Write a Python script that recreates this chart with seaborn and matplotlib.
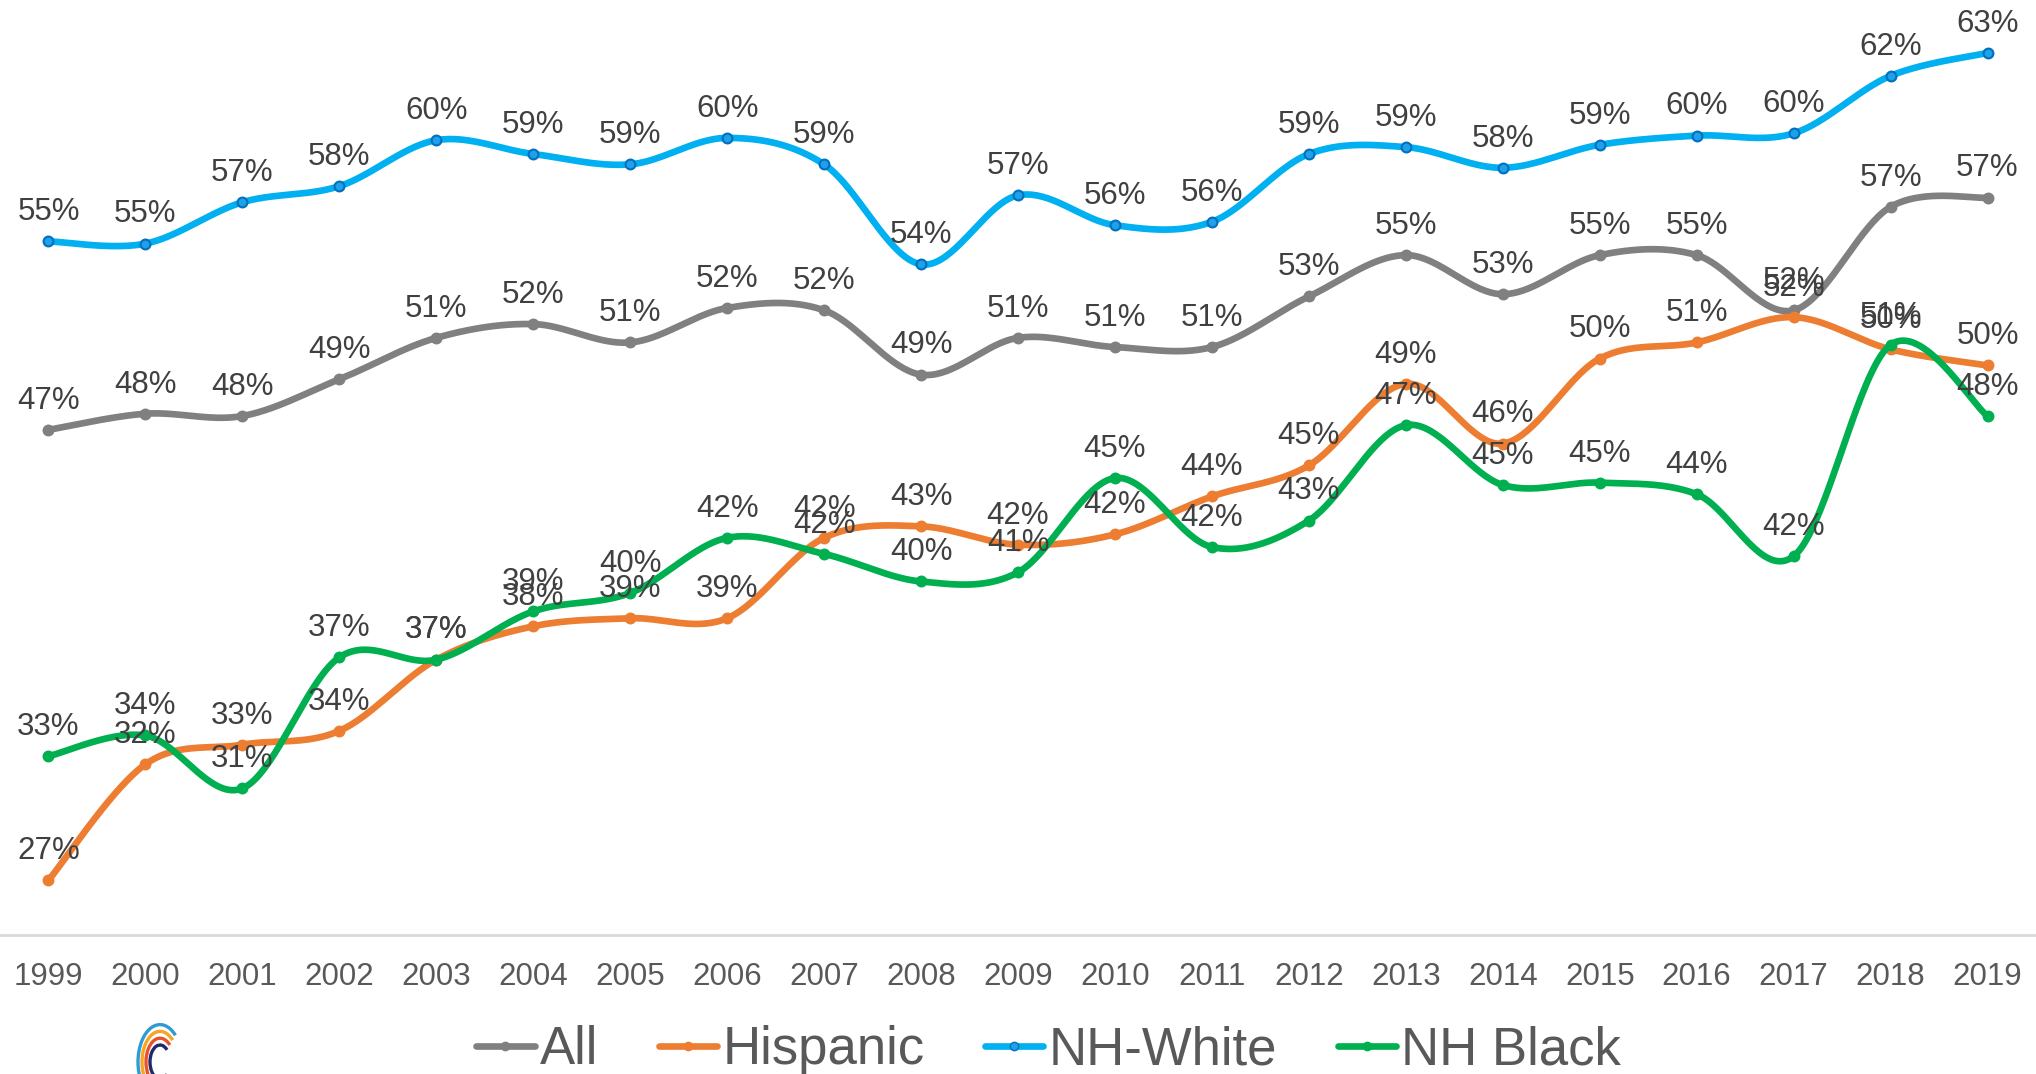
import numpy as np
import pandas as pd
import matplotlib
matplotlib.use("Agg")
import matplotlib.pyplot as plt
from matplotlib.lines import Line2D
from matplotlib.patches import Arc
import seaborn as sns

# values in percent
years = [str(y) for y in range(1999, 2020)]
all_pct = [47.0, 47.7, 47.6, 49.2, 51.0, 51.6, 50.8, 52.3, 52.2, 49.4, 51.0,
           50.6, 50.6, 52.8, 54.6, 52.9, 54.6, 54.6, 52.2, 56.7, 57.1]
hispanic_pct = [27.4, 32.45, 33.3, 33.9, 37.0, 38.45, 38.8, 38.8, 42.3, 42.8, 42.0,
                42.45, 44.1, 45.45, 49.0, 46.4, 50.1, 50.8, 51.9, 50.5, 49.8]
white_pct = [55.2, 55.1, 56.9, 57.6, 59.6, 59.0, 58.55, 59.7, 58.55, 54.2, 57.2,
             55.9, 56.05, 59.0, 59.3, 58.4, 59.4, 59.8, 59.9, 62.4, 63.4]
black_pct = [32.8, 33.7, 31.4, 37.1, 37.0, 39.1, 39.9, 42.3, 41.6, 40.4, 40.8,
             44.9, 41.9, 43.05, 47.2, 44.6, 44.7, 44.2, 41.5, 50.7, 47.6]

series_names = ["All", "Hispanic", "NH-White", "NH Black"]
series_vals = [all_pct, hispanic_pct, white_pct, black_pct]
line_colors = ["#808080", "#ED7D31", "#00B0F0", "#00B050"]
edge_colors = ["#808080", "#ED7D31", "#0070C0", "#00B050"]


def smooth_curve(vals, n=40):
    # excel style smoothed line (bezier through every point)
    p = np.column_stack([np.arange(len(vals)), vals]).astype(float)
    ext = np.vstack([p[0], p, p[-1]])
    t = np.linspace(0, 1, n)[:, None]
    segs = []
    for i in range(len(p) - 1):
        p0, p1, p2, p3 = ext[i], ext[i + 1], ext[i + 2], ext[i + 3]
        c1 = p1 + (p2 - p0) / 6
        c2 = p2 - (p3 - p1) / 6
        segs.append((1 - t) ** 3 * p1 + 3 * (1 - t) ** 2 * t * c1
                    + 3 * (1 - t) * t ** 2 * c2 + t ** 3 * p2)
    return np.vstack(segs)


sns.set_theme(style="white")
plt.rcParams["font.family"] = ["Liberation Sans", "DejaVu Sans"]

fig = plt.figure(figsize=(20.36, 10.74), dpi=100)
ax = fig.add_axes([0, 0.129, 1, 0.871])

for k, (name, vals) in enumerate(zip(series_names, series_vals)):
    v = np.array(vals) / 100
    curve = smooth_curve(v)
    df = pd.DataFrame({"x": curve[:, 0], "y": curve[:, 1]})
    sns.lineplot(data=df, x="x", y="y", sort=False, estimator=None, ax=ax,
                 color=line_colors[k], linewidth=4.8, zorder=2 + k)
    face = "#1FA0E8" if name == "NH-White" else line_colors[k]
    sns.scatterplot(x=np.arange(len(v)), y=v, ax=ax, s=50, color=face,
                    edgecolor=edge_colors[k], linewidth=1.5, zorder=3 + k)

# data labels on top of all lines
for vals in series_vals:
    for i, val in enumerate(vals):
        ax.annotate(f"{val:.0f}%", (i, val / 100), xytext=(0, 21),
                    textcoords="offset points", ha="center", va="center",
                    fontsize=22.5, color="#404040", zorder=10)

ax.set_xlim(-0.5, len(years) - 0.5)
ax.set_ylim(0.25, 0.657)
ax.set_xticks(range(len(years)))
ax.set_xticklabels(years)
ax.set_yticks([])
ax.set_xlabel("")
ax.set_ylabel("")
ax.tick_params(axis="x", length=0, pad=19, labelsize=22.5, labelcolor="#595959")
for side in ["left", "right", "top"]:
    ax.spines[side].set_visible(False)
ax.spines["bottom"].set_color("#D9D9D9")
ax.spines["bottom"].set_linewidth(2)

handles = [Line2D([0], [0], color=line_colors[k], lw=4.8, marker="o", markersize=6,
                  markerfacecolor=("#1FA0E8" if series_names[k] == "NH-White" else line_colors[k]),
                  markeredgecolor=edge_colors[k])
           for k in range(4)]
leg = fig.legend(handles, series_names, loc="center", bbox_to_anchor=(0.515, 0.022),
                 ncol=4, frameon=False, fontsize=38, handlelength=1.1,
                 handletextpad=0.1, columnspacing=1.15)
for txt in leg.get_texts():
    txt.set_color("#595959")

# cropped logo arcs in the lower left corner (pixel coords from bottom-left)
logo_colors = ["#2E9BD6", "#F5A623", "#E8532B", "#1F2A6B"]
for w, c in zip([44, 36, 28, 20], logo_colors):
    arc = Arc((160, 12), w, w * 1.7, theta1=60, theta2=300, color=c, lw=2.4,
              transform=None)
    fig.add_artist(arc)

fig.savefig("out.png", dpi=100)
